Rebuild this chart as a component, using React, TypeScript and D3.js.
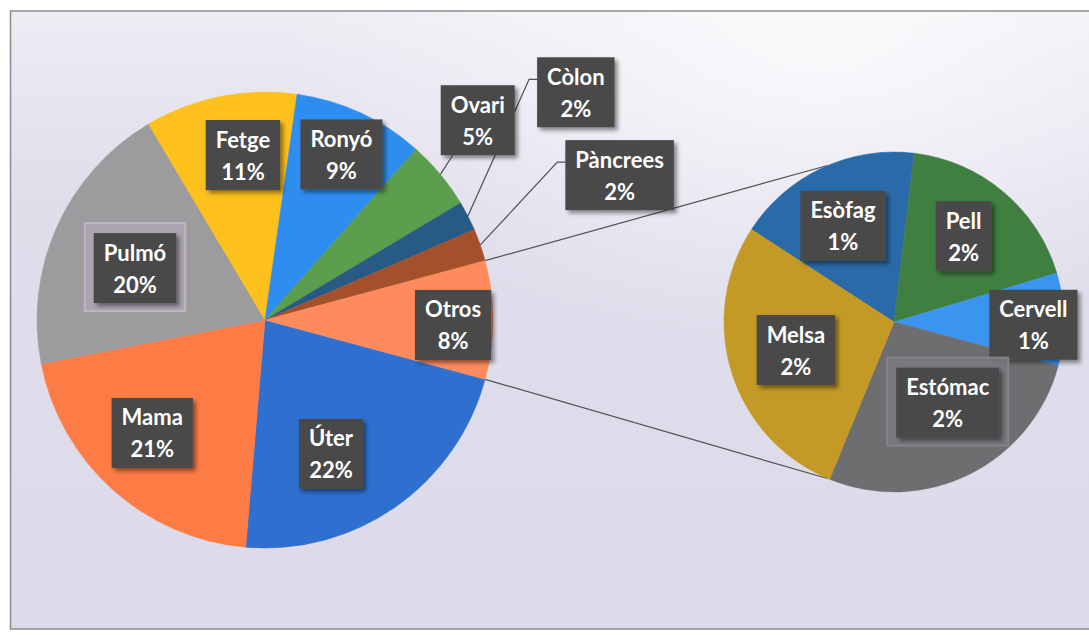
import React from "react";
import * as d3 from "d3";

// ---- data ----
const mainNames = ["Úter", "Mama", "Pulmó", "Fetge", "Ronyó", "Ovari", "Còlon", "Pàncrees", "Otros"];
const mainValues = [22.2, 20.6, 19.6, 10.8, 9.3, 4.9, 2.1, 2.3, 8.4];
const mainColors = ["#2f6fd0", "#fd7b45", "#9c9c9e", "#fdc01c", "#2e8ef0", "#5b9e4d", "#285a86", "#a4512b", "#ff8b5c"];

const subNames = ["Esòfag", "Pell", "Cervell", "Estómac", "Melsa"];
const subValues = [1.49, 1.55, 0.74, 2.27, 2.35];
const subColors = ["#2a6aa8", "#3f8040", "#3a95f0", "#6e6e70", "#c39a25"];

// ---- layout (styling, not data) ----
const W = 1089, H = 635;
const MAIN = { cx: 265, cy: 320, r: 228 };
const SUB = { cx: 894, cy: 322, r: 170 };
const SUB_START_DEG = -57;
const CONNECT_DEG = 113; // from 3 o'clock to connector point on secondary pie
const FS = 22;
const FONT = "Lato, 'Open Sans', sans-serif";

// label placement: [angle offset deg, radius factor]
const mainLabelPos: Record<string, [number, number]> = {
  "Úter": [8.8, 0.655], "Mama": [3.1, 0.7], "Pulmó": [-2.3, 0.614], "Fetge": [3.7, 0.73],
  "Ronyó": [0, 0.8], "Otros": [1.5, 0.825], "Ovari": [-3.5, 1.28], "Còlon": [-9.1, 1.69],
  "Pàncrees": [-3, 1.68],
};
const subLabelPos: Record<string, [number, number]> = {
  "Esòfag": [-2.9, 0.64], "Pell": [-1, 0.65], "Cervell": [2, 0.82], "Estómac": [-7.3, 0.57], "Melsa": [1.4, 0.6],
};
const external = new Set(["Ovari", "Còlon", "Pàncrees"]);
const frameStyle: Record<string, { fill: string; op: number; stroke: string }> = {
  "Pulmó": { fill: "#ada6b3", op: 0.9, stroke: "#bdb6c2" },
  "Estómac": { fill: "#7a787e", op: 0.9, stroke: "#858389" },
};

const rad = (d: number) => (d * Math.PI) / 180;
const polar = (cx: number, cy: number, r: number, a: number): [number, number] => [cx + r * Math.sin(a), cy - r * Math.cos(a)];

let ctx: CanvasRenderingContext2D | null = null;
function textW(t: string) {
  if (!ctx) ctx = document.createElement("canvas").getContext("2d");
  if (!ctx) return t.length * FS * 0.52;
  ctx.font = `bold ${FS}px Lato`;
  return ctx.measureText(t).width;
}

type Box = { x: number; y: number; w: number; h: number };

function boxFor(cx: number, cy: number, lines: string[]): Box {
  const tw = Math.max(...lines.map(textW));
  const w = tw + 20, h = 70;
  return { x: cx - w / 2, y: cy - h / 2, w, h };
}

function Label({ b, lines, name }: { b: Box; lines: string[]; name: string }) {
  const fr = frameStyle[name];
  return (
    <g>
      {fr && (
        <rect x={b.x - 9} y={b.y - 10} width={b.w + 18} height={b.h + 18}
          fill={fr.fill} fillOpacity={fr.op} stroke={fr.stroke} strokeWidth={2} />
      )}
      <rect x={b.x} y={b.y} width={b.w} height={b.h} fill="#4a4a48" filter="url(#shadow)" />
      {lines.map((t, i) => (
        <text key={i} x={b.x + b.w / 2} y={b.y + b.h / 2 + (i === 0 ? -16 : 16)} textAnchor="middle"
          dominantBaseline="central" fill="#ffffff" fontFamily={FONT} fontWeight={700} fontSize={FS}>
          {t}
        </text>
      ))}
    </g>
  );
}

export default function App() {
  const total = d3.sum(mainValues);
  const pct = (v: number) => `${Math.round((v / total) * 100)}%`;

  const otrosAng = (2 * Math.PI * mainValues[mainValues.length - 1]) / total;
  const s0 = Math.PI / 2 + otrosAng / 2;
  const mainArcs = d3.pie<number>().sort(null).startAngle(s0).endAngle(s0 + 2 * Math.PI)(mainValues);
  const s1 = rad(SUB_START_DEG);
  const subArcs = d3.pie<number>().sort(null).startAngle(s1).endAngle(s1 + 2 * Math.PI)(subValues);

  const mainArc = d3.arc<d3.PieArcDatum<number>>().innerRadius(0).outerRadius(MAIN.r);
  const subArc = d3.arc<d3.PieArcDatum<number>>().innerRadius(0).outerRadius(SUB.r);

  const otros = mainArcs[mainArcs.length - 1];
  const pTop = polar(MAIN.cx, MAIN.cy, MAIN.r, otros.startAngle);
  const pBot = polar(MAIN.cx, MAIN.cy, MAIN.r, otros.endAngle);
  const qTop = polar(SUB.cx, SUB.cy, SUB.r, rad(90 - CONNECT_DEG));
  const qBot = polar(SUB.cx, SUB.cy, SUB.r, rad(90 + CONNECT_DEG));

  const mainLabels = mainArcs.map((a, i) => {
    const name = mainNames[i];
    const [da, k] = mainLabelPos[name];
    const mid = (a.startAngle + a.endAngle) / 2;
    const [x, y] = polar(MAIN.cx, MAIN.cy, MAIN.r * k, mid + rad(da));
    const lines = [name, pct(a.data)];
    const b = boxFor(x, y, lines);
    let leader: string | null = null;
    if (external.has(name)) {
      const [ax, ay] = polar(MAIN.cx, MAIN.cy, MAIN.r, mid);
      if (name === "Ovari") {
        leader = `M${ax},${ay}L${b.x + 12},${b.y + b.h}`;
      } else {
        const ey = b.y + 22;
        leader = `M${ax},${ay}L${b.x - 8},${ey}L${b.x},${ey}`;
      }
    }
    return { name, lines, b, leader };
  });

  const subLabels = subArcs.map((a, i) => {
    const name = subNames[i];
    const [da, k] = subLabelPos[name];
    const mid = (a.startAngle + a.endAngle) / 2;
    const [x, y] = polar(SUB.cx, SUB.cy, SUB.r * k, mid + rad(da));
    const lines = [name, pct(a.data)];
    return { name, lines, b: boxFor(x, y, lines) };
  });

  return (
    <svg width={W} height={H} style={{ position: "absolute", left: 0, top: 0, display: "block" }}>
      <defs>
        <linearGradient id="bg" x1="0" y1="0" x2="0" y2="1">
          <stop offset="0" stopColor="#eeedf4" />
          <stop offset="0.09" stopColor="#e9e7f1" />
          <stop offset="0.3" stopColor="#e1deec" />
          <stop offset="1" stopColor="#dcd9e9" />
        </linearGradient>
        <radialGradient id="glow" cx="0.75" cy="0.05" r="0.5">
          <stop offset="0" stopColor="#ffffff" stopOpacity={0.75} />
          <stop offset="1" stopColor="#ffffff" stopOpacity={0} />
        </radialGradient>
        <filter id="shadow" x="-20%" y="-20%" width="150%" height="150%">
          <feDropShadow dx="3" dy="3" stdDeviation="2" floodColor="#000" floodOpacity="0.45" />
        </filter>
      </defs>
      <rect x={0} y={0} width={W} height={H} fill="#ffffff" />
      <rect x={10} y={11} width={W - 10} height={618} fill="url(#bg)" />
      <rect x={10} y={11} width={W - 10} height={618} fill="url(#glow)" />
      <path d={`M${W},11H10.5V629H${W}`} fill="none" stroke="#8c8c8c" strokeWidth={1.5} />

      {/* connector lines */}
      <line x1={pTop[0]} y1={pTop[1]} x2={qTop[0]} y2={qTop[1]} stroke="#505050" strokeWidth={1.2} />
      <line x1={pBot[0]} y1={pBot[1]} x2={qBot[0]} y2={qBot[1]} stroke="#505050" strokeWidth={1.2} />

      <g transform={`translate(${MAIN.cx},${MAIN.cy})`}>
        {mainArcs.map((a, i) => (
          <path key={i} d={mainArc(a) || ""} fill={mainColors[i]} stroke={mainColors[i]} strokeWidth={0.5} />
        ))}
      </g>
      <g transform={`translate(${SUB.cx},${SUB.cy})`}>
        {subArcs.map((a, i) => (
          <path key={i} d={subArc(a) || ""} fill={subColors[i]} stroke={subColors[i]} strokeWidth={0.5} />
        ))}
      </g>

      {mainLabels.map((l) =>
        l.leader ? <path key={"ld" + l.name} d={l.leader} fill="none" stroke="#505050" strokeWidth={1.2} /> : null
      )}
      {mainLabels.map((l) => (
        <Label key={l.name} b={l.b} lines={l.lines} name={l.name} />
      ))}
      {subLabels.map((l) => (
        <Label key={l.name} b={l.b} lines={l.lines} name={l.name} />
      ))}
    </svg>
  );
}
